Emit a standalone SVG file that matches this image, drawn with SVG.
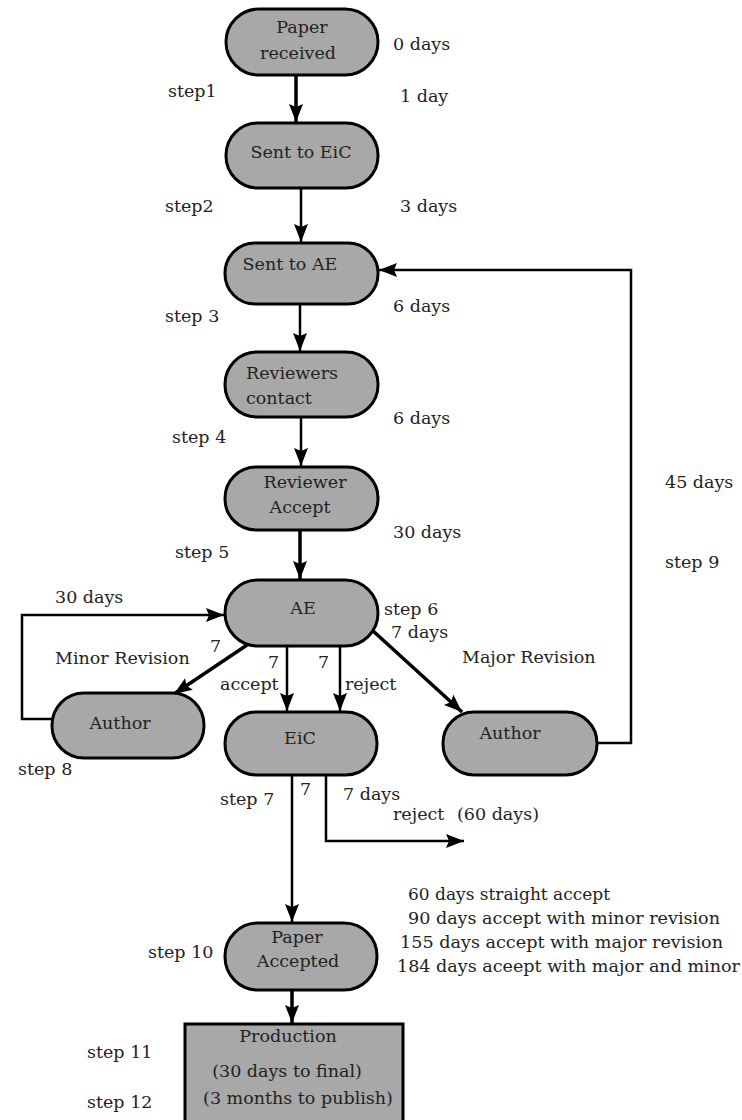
<svg xmlns="http://www.w3.org/2000/svg" width="742" height="1120" viewBox="0 0 742 1120">
<style>
.node{fill:#a8a8a8;stroke:#000;stroke-width:3}
text{font-family:"DejaVu Serif","Liberation Serif",serif;font-size:17.5px;fill:#222}
.c{text-anchor:middle}
.e{fill:none;stroke:#000;stroke-width:2.5}
.t{stroke-width:3.5}
</style>
<defs>
<marker id="ah" markerUnits="userSpaceOnUse" markerWidth="22" markerHeight="16" refX="18" refY="7" orient="auto">
<path d="M0,0 L18,7 L0,14 L3,7 z" fill="#000"/>
</marker>
</defs>
<rect width="742" height="1120" fill="#fff"/>
<g id="connectors">
<path class="e t" d="M296,75 L296,122" marker-end="url(#ah)"/>
<path class="e" d="M301,188 L301,242" marker-end="url(#ah)"/>
<path class="e" d="M300,304 L300,351" marker-end="url(#ah)"/>
<path class="e" d="M301,417 L301,466" marker-end="url(#ah)"/>
<path class="e t" d="M300,530 L300,579" marker-end="url(#ah)"/>
<path class="e" d="M52,719 L22,719 L22,615 L224,615" marker-end="url(#ah)"/>
<path class="e t" d="M247,645 L174,694" marker-end="url(#ah)"/>
<path class="e" d="M287,646 L287,711" marker-end="url(#ah)"/>
<path class="e" d="M340,646 L340,711" marker-end="url(#ah)"/>
<path class="e t" d="M372,630 L462,712" marker-end="url(#ah)"/>
<path class="e" d="M597,743 L631,743 L631,270 L379,270" marker-end="url(#ah)"/>
<path class="e" d="M326,775 L326,841 L464,841" marker-end="url(#ah)"/>
<path class="e" d="M292,775 L292,922" marker-end="url(#ah)"/>
<path class="e t" d="M292,990 L292,1023" marker-end="url(#ah)"/>
</g>
<g id="n1"><rect class="node" x="226" y="9" width="152" height="66" rx="33"/><text class="c" x="302" y="33">Paper</text><text class="c" x="298" y="59">received</text></g>
<g id="n2"><rect class="node" x="226" y="123" width="152" height="65" rx="32"/><text class="c" x="301" y="158">Sent to EiC</text></g>
<g id="n3"><rect class="node" x="225" y="243" width="153" height="61" rx="30"/><text class="c" x="290" y="270">Sent to AE</text></g>
<g id="n4"><rect class="node" x="225" y="352" width="153" height="65" rx="32"/><text x="246" y="379">Reviewers</text><text x="246" y="404">contact</text></g>
<g id="n5"><rect class="node" x="225" y="467" width="153" height="63" rx="31"/><text class="c" x="305" y="488">Reviewer</text><text class="c" x="300" y="513">Accept</text></g>
<g id="n6"><rect class="node" x="225" y="580" width="153" height="66" rx="33"/><text class="c" x="303" y="614">AE</text></g>
<g id="n7"><rect class="node" x="52" y="693" width="152" height="65" rx="32"/><text class="c" x="120" y="729">Author</text></g>
<g id="n8"><rect class="node" x="225" y="712" width="152" height="63" rx="31"/><text class="c" x="300" y="744">EiC</text></g>
<g id="n9"><rect class="node" x="443" y="712" width="154" height="63" rx="31"/><text class="c" x="510" y="739">Author</text></g>
<g id="n10"><rect class="node" x="225" y="923" width="152" height="67" rx="33"/><text class="c" x="297" y="943">Paper</text><text class="c" x="298" y="967">Accepted</text></g>
<g id="n11"><rect class="node" x="185" y="1024" width="218" height="110"/><text class="c" x="288" y="1042">Production</text><text class="c" x="287" y="1077">(30 days to final)</text><text class="c" x="298" y="1104">(3 months to publish)</text></g>
<g id="labels">
<text x="393" y="50">0 days</text>
<text x="168" y="97">step1</text>
<text x="400" y="102">1 day</text>
<text x="165" y="212">step2</text>
<text x="400" y="212">3 days</text>
<text x="393" y="312">6 days</text>
<text x="165" y="322">step 3</text>
<text x="393" y="424">6 days</text>
<text x="172" y="443">step 4</text>
<text x="393" y="538">30 days</text>
<text x="175" y="558">step 5</text>
<text x="665" y="488">45 days</text>
<text x="665" y="568">step 9</text>
<text x="55" y="603">30 days</text>
<text x="55" y="664">Minor Revision</text>
<text x="210" y="652">7</text>
<text x="268" y="668">7</text>
<text x="220" y="690">accept</text>
<text x="318" y="668">7</text>
<text x="345" y="690">reject</text>
<text x="18" y="775">step 8</text>
<text x="384" y="615">step 6</text>
<text x="391" y="638">7 days</text>
<text x="462" y="663">Major Revision</text>
<text x="220" y="805">step 7</text>
<text x="300" y="795">7</text>
<text x="343" y="800">7 days</text>
<text x="393" y="820">reject</text>
<text x="457" y="820">(60 days)</text>
<text x="408" y="900" textLength="202" lengthAdjust="spacingAndGlyphs">60 days straight accept</text>
<text x="408" y="924" textLength="312" lengthAdjust="spacingAndGlyphs">90 days accept with minor revision</text>
<text x="400" y="948" textLength="323" lengthAdjust="spacingAndGlyphs">155 days accept with major revision</text>
<text x="397" y="972" textLength="343" lengthAdjust="spacingAndGlyphs">184 days aceept with major and minor</text>
<text x="148" y="958">step 10</text>
<text x="87" y="1058">step 11</text>
<text x="87" y="1108">step 12</text>
</g>
</svg>
